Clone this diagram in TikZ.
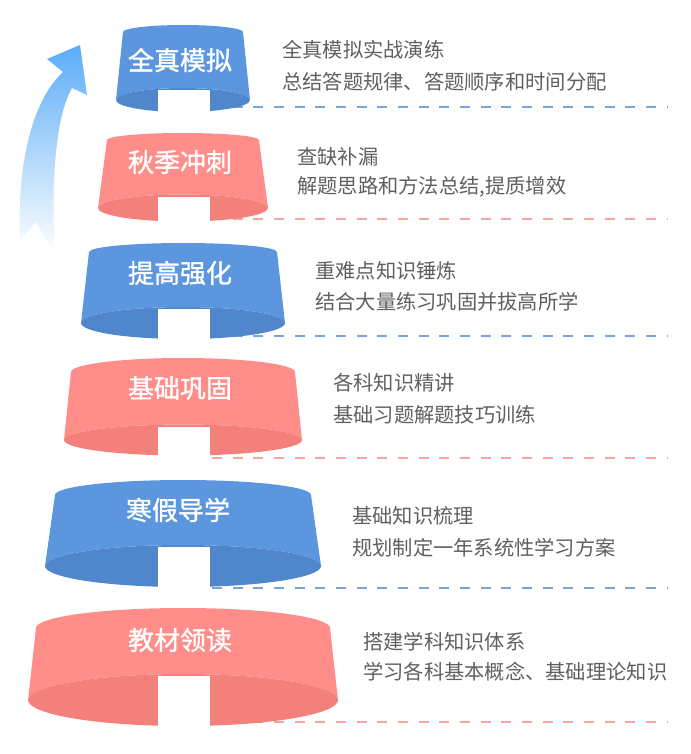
\documentclass[tikz,border=0pt]{standalone}
\usepackage{fontspec}
\usepackage{tikz}
\usetikzlibrary{calc}
\newfontfamily\cjk{Noto Sans CJK SC}
\newfontfamily\cjklabel{Noto Sans CJK SC}[FakeBold=1.2]
\definecolor{bandblue}{RGB}{91,150,222}
\definecolor{bandbluedark}{RGB}{79,134,204}
\definecolor{bandred}{RGB}{255,141,137}
\definecolor{bandreddark}{RGB}{243,128,122}
\definecolor{sepblue}{RGB}{120,163,219}
\definecolor{sepred}{RGB}{247,165,162}
\definecolor{textgray}{RGB}{95,95,95}
\definecolor{arrowblue}{RGB}{90,172,247}

\begin{document}
\begin{tikzpicture}[x=0.75pt, y=-0.75pt,
  title/.style={font=\cjklabel\fontsize{19.5}{22}\selectfont, text=white, inner sep=0pt},
  note/.style={font=\cjk\fontsize{15.2}{18}\selectfont, text=textgray, anchor=west, inner sep=0pt},
  sep/.style={line width=1.2pt, dash pattern=on 7.5pt off 8pt},
  notch/.style={fill=white}]
  \useasboundingbox (0,0) rectangle (690,754);

  % rising arrow
  \shade[top color=arrowblue, bottom color=white]
    (20,240) .. controls (17,160) and (33,100) .. (63,72) -- (47,59) -- (80,45)
    -- (87,95) -- (72,88) .. controls (58,112) and (50,170) .. (55,255) -- (36,222) -- cycle;

  % separators
  \draw[sep, sepblue] (212,107) -- (667,107);
  \draw[sep, sepred] (212,219) -- (667,219);
  \draw[sep, sepblue] (212,336) -- (667,336);
  \draw[sep, sepred] (212,458) -- (667,458);
  \draw[sep, sepblue] (212,588) -- (667,588);
  \draw[sep, sepred] (212,722) -- (667,722);

  % tier 1
  \fill[bandblue] (123,32) arc[start angle=180, end angle=360, x radius=60, y radius=7]
    -- (250,100) arc[start angle=0, end angle=-180, x radius=67, y radius=12] -- cycle;
  \fill[bandbluedark] (183,100) ellipse[x radius=67, y radius=12];
  \fill[notch] (158,90) rectangle (210,114);
  \node[title] (t1) at (180,60) {全真模拟};
  \node[note] (n1a) at (282,50) {全真模拟实战演练};
  \node[note] (n1b) at (282,82) {总结答题规律、答题顺序和时间分配};

  % tier 2
  \fill[bandred] (107,140) arc[start angle=180, end angle=360, x radius=76, y radius=7]
    -- (268,208) arc[start angle=0, end angle=-180, x radius=85, y radius=13.5] -- cycle;
  \fill[bandreddark] (183,208) ellipse[x radius=85, y radius=13.5];
  \fill[notch] (158,197) rectangle (210,224);
  \node[title] (t2) at (180,162) {秋季冲刺};
  \node[note] (n2a) at (297,157) {查缺补漏};
  \node[note] (n2b) at (297,187) {解题思路和方法总结,提质增效};

  % tier 3
  \fill[bandblue] (89,252) arc[start angle=180, end angle=360, x radius=94, y radius=9]
    -- (285,323) arc[start angle=0, end angle=-180, x radius=102, y radius=16] -- cycle;
  \fill[bandbluedark] (183,323) ellipse[x radius=102, y radius=16];
  \fill[notch] (158,309) rectangle (210,341);
  \node[title] (t3) at (180,273) {提高强化};
  \node[note] (n3a) at (315,271) {重难点知识锤炼};
  \node[note] (n3b) at (315,302) {结合大量练习巩固并拔高所学};

  % tier 4
  \fill[bandred] (71,372) arc[start angle=180, end angle=360, x radius=112, y radius=14]
    -- (302,440) arc[start angle=0, end angle=-180, x radius=119, y radius=15.5] -- cycle;
  \fill[bandreddark] (183,440) ellipse[x radius=119, y radius=15.5];
  \fill[notch] (158,427) rectangle (210,458);
  \node[title] (t4) at (180,388) {基础巩固};
  \node[note] (n4a) at (333,383) {各科知识精讲};
  \node[note] (n4b) at (333,415) {基础习题解题技巧训练};

  % tier 5
  \fill[bandblue] (55,495) arc[start angle=180, end angle=360, x radius=128, y radius=15]
    -- (321,566) arc[start angle=0, end angle=-180, x radius=138, y radius=21] -- cycle;
  \fill[bandbluedark] (183,566) ellipse[x radius=138, y radius=21];
  \fill[notch] (158,547) rectangle (210,590);
  \node[title] (t5) at (178,510) {寒假导学};
  \node[note] (n5a) at (352,516) {基础知识梳理};
  \node[note] (n5b) at (352,548) {规划制定一年系统性学习方案};

  % tier 6
  \fill[bandred] (36,628) arc[start angle=180, end angle=360, x radius=147, y radius=20]
    -- (338,700) arc[start angle=0, end angle=-180, x radius=155, y radius=26] -- cycle;
  \fill[bandreddark] (183,700) ellipse[x radius=155, y radius=26];
  \fill[notch] (158,676) rectangle (210,728);
  \node[title] (t6) at (180,640) {教材领读};
  \node[note] (n6a) at (363,642) {搭建学科知识体系};
  \node[note] (n6b) at (363,672) {学习各科基本概念、基础理论知识};
\end{tikzpicture}
\end{document}
